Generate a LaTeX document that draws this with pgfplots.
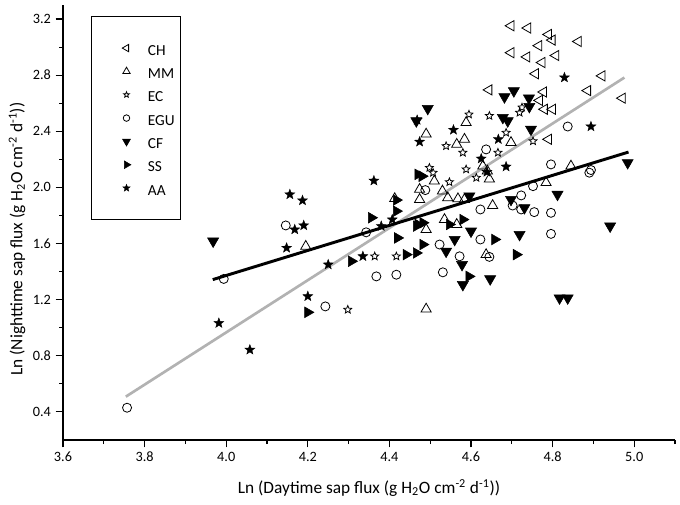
\documentclass[border=0pt]{standalone}
\usepackage{fontspec}
\setmainfont{Carlito}
\usepackage{pgfplots}
\pgfplotsset{compat=1.18}
\usetikzlibrary{plotmarks}
\definecolor{fitgray}{RGB}{178,178,178}
\pgfdeclareplotmark{fstar}{%
  \pgfpathmoveto{\pgfqpointpolar{90}{\pgfplotmarksize}}%
  \pgfpathlineto{\pgfqpointpolar{126}{0.42\pgfplotmarksize}}%
  \pgfpathlineto{\pgfqpointpolar{162}{\pgfplotmarksize}}%
  \pgfpathlineto{\pgfqpointpolar{198}{0.42\pgfplotmarksize}}%
  \pgfpathlineto{\pgfqpointpolar{234}{\pgfplotmarksize}}%
  \pgfpathlineto{\pgfqpointpolar{270}{0.42\pgfplotmarksize}}%
  \pgfpathlineto{\pgfqpointpolar{306}{\pgfplotmarksize}}%
  \pgfpathlineto{\pgfqpointpolar{342}{0.42\pgfplotmarksize}}%
  \pgfpathlineto{\pgfqpointpolar{18}{\pgfplotmarksize}}%
  \pgfpathlineto{\pgfqpointpolar{54}{0.42\pgfplotmarksize}}%
  \pgfpathclose\pgfusepathqfillstroke}
\pgfdeclareplotmark{ostar}{%
  \pgfpathmoveto{\pgfqpointpolar{90}{\pgfplotmarksize}}%
  \pgfpathlineto{\pgfqpointpolar{126}{0.45\pgfplotmarksize}}%
  \pgfpathlineto{\pgfqpointpolar{162}{\pgfplotmarksize}}%
  \pgfpathlineto{\pgfqpointpolar{198}{0.45\pgfplotmarksize}}%
  \pgfpathlineto{\pgfqpointpolar{234}{\pgfplotmarksize}}%
  \pgfpathlineto{\pgfqpointpolar{270}{0.45\pgfplotmarksize}}%
  \pgfpathlineto{\pgfqpointpolar{306}{\pgfplotmarksize}}%
  \pgfpathlineto{\pgfqpointpolar{342}{0.45\pgfplotmarksize}}%
  \pgfpathlineto{\pgfqpointpolar{18}{\pgfplotmarksize}}%
  \pgfpathlineto{\pgfqpointpolar{54}{0.45\pgfplotmarksize}}%
  \pgfpathclose\pgfusepathqstroke}
\begin{document}
\begin{tikzpicture}
\path[use as bounding box] (-47.25pt,-48pt) rectangle (462.75pt,330pt);
\begin{axis}[
  at={(0pt,0pt)}, anchor=south west,
  scale only axis, width=459pt, height=326.25pt,
  xmin=3.6, xmax=5.1, ymin=0.2, ymax=3.3,
  axis x line*=bottom, axis y line*=left,
  axis line style={line width=0.8pt},
  xtick={3.6,3.8,4.0,4.2,4.4,4.6,4.8,5.0},
  ytick={0.4,0.8,1.2,1.6,2.0,2.4,2.8,3.2},
  minor xtick={3.7,3.9,4.1,4.3,4.5,4.7,4.9,5.1},
  minor ytick={0.6,1.0,1.4,1.8,2.2,2.6,3.0},
  tick align=outside,
  major tick length=5.5pt, minor tick length=3pt,
  tick style={line width=0.8pt, black},
  /pgf/number format/fixed,
  /pgf/number format/fixed zerofill,
  /pgf/number format/precision=1,
  /pgf/number format/assume math mode=true,
  xticklabel style={font=\fontsize{10.7}{12}\selectfont},
  yticklabel style={font=\fontsize{10.7}{12}\selectfont},
  xlabel={Ln (Daytime sap flux (g H\textsubscript{2}O cm\textsuperscript{-2} d\textsuperscript{-1}))},
  ylabel={Ln (Nighttime sap flux (g H\textsubscript{2}O cm\textsuperscript{-2} d\textsuperscript{-1}))},
  xlabel style={at={(axis description cs:0.5,-0.110)}, anchor=center, font=\fontsize{13}{15}\selectfont},
  ylabel style={at={(axis description cs:-0.075,0.462)}, anchor=center, font=\fontsize{13}{15}\selectfont},
  legend style={at={(axis description cs:0.0458,0.9747)}, anchor=north west,
    draw=black, line width=0.6pt, inner xsep=2pt, inner ysep=15pt,
    font=\fontsize{11.5}{13}\selectfont, row sep=0pt,
    nodes={text height=12pt, text depth=1.5pt}},
  legend cell align=left,
  legend image code/.code={%
    \path (0pt,0pt) (37.75pt,0pt);
    \draw[mark repeat=2,mark phase=2,#1,/tikz/every mark/.append style={scale=0.72}]
      plot coordinates {(0pt,0pt) (24pt,0pt) (37.75pt,0pt)};},
]
% fitted lines
\addplot[fitgray, line width=2pt, forget plot] coordinates {(3.754,0.509) (4.976,2.783)};
\addplot[black, line width=2.2pt, forget plot] coordinates {(3.967,1.343) (4.986,2.252)};

% CH
\addplot[only marks, mark=triangle, mark size=4.4pt, mark options={rotate=90, line width=0.6pt}, black] coordinates {
(4.698,3.152) (4.739,3.136) (4.790,3.09) (4.799,3.05) (4.863,3.04) (4.766,3.01)
(4.698,2.96) (4.737,2.93) (4.774,2.89) (4.808,2.94) (4.758,2.81) (4.921,2.795)
(4.644,2.695) (4.778,2.68) (4.886,2.69) (4.768,2.62) (4.780,2.557) (4.800,2.557)
(4.790,2.343) (4.971,2.636)
};
\addlegendentry{CH}
% MM
\addplot[only marks, mark=triangle, mark size=4.4pt, mark options={line width=0.6pt}, black] coordinates {
(4.588,2.462) (4.49,2.38) (4.698,2.32) (4.565,2.307) (4.584,2.343) (4.629,2.152) (4.64,2.117)
(4.51,2.045) (4.474,1.986) (4.53,1.974) (4.474,1.914) (4.543,1.926) (4.568,1.919)
(4.584,1.914) (4.653,1.871) (4.784,2.034) (4.845,2.152) (4.535,1.771) (4.565,1.736)
(4.49,1.70) (4.195,1.58) (4.49,1.133) (4.637,1.521) (4.413,1.92) (4.645,2.06)
};
\addlegendentry{MM}
% EC
\addplot[only marks, mark=ostar, mark size=3.1pt, mark options={line width=0.6pt}, black] coordinates {
(4.595,2.52) (4.645,2.51) (4.719,2.533) (4.725,2.57) (4.539,2.295) (4.58,2.248) (4.666,2.248)
(4.686,2.39) (4.752,2.33) (4.588,2.129) (4.507,2.105) (4.613,2.069) (4.547,2.038)
(4.498,2.14) (4.417,1.509) (4.364,1.509) (4.298,1.129)
};
\addlegendentry{EC}
% EGU
\addplot[only marks, mark=o, mark size=3.4pt, mark options={line width=0.6pt}, black] coordinates {
(3.757,0.43) (3.994,1.348) (4.146,1.729) (4.243,1.152) (4.343,1.68) (4.368,1.366)
(4.417,1.378) (4.523,1.593) (4.572,1.509) (4.531,1.395) (4.645,1.505) (4.623,1.843)
(4.702,1.871) (4.723,1.843) (4.755,1.824) (4.796,1.819) (4.796,1.669) (4.623,1.629)
(4.837,2.434) (4.796,2.164) (4.894,2.124) (4.89,2.105) (4.752,2.009) (4.723,1.943)
(4.637,2.271) (4.488,1.981)
};
\addlegendentry{EGU}
% CF
\addplot[only marks, mark=triangle*, mark size=4.8pt, mark options={rotate=180, line width=0.4pt}, black] coordinates {
(3.968,1.617) (4.494,2.562) (4.466,2.474) (4.682,2.645) (4.705,2.688) (4.742,2.636)
(4.743,2.576) (4.678,2.498) (4.69,2.474) (4.747,2.414) (4.984,2.176) (4.812,1.95)
(4.698,1.914) (4.731,1.855) (4.596,1.938) (4.60,1.688) (4.719,1.664) (4.941,1.724)
(4.56,1.629) (4.539,1.545) (4.578,1.45) (4.58,1.307) (4.647,1.348) (4.817,1.212)
(4.837,1.212)
};
\addlegendentry{CF}
% SS
\addplot[only marks, mark=triangle*, mark size=4.6pt, mark options={rotate=-90, line width=0.4pt}, black] coordinates {
(4.20,1.11) (4.356,1.784) (4.417,1.831) (4.307,1.474) (4.42,1.64) (4.441,1.521)
(4.466,1.533) (4.482,1.593) (4.466,1.724) (4.482,1.748) (4.547,1.736) (4.58,1.771)
(4.47,2.093) (4.48,2.08) (4.417,1.91) (4.47,1.736) (4.658,1.629) (4.711,1.521)
(4.595,1.366)
};
\addlegendentry{SS}
% AA
\addplot[only marks, mark=fstar, mark size=3.9pt, mark options={line width=0.3pt, fill=black}, black] coordinates {
(3.982,1.033) (4.058,0.843) (4.20,1.224) (4.25,1.45) (4.156,1.95) (4.187,1.907)
(4.168,1.70) (4.19,1.729) (4.148,1.569) (4.362,2.048) (4.829,2.783) (4.894,2.434)
(4.557,2.41) (4.474,2.325) (4.468,2.48) (4.667,2.343) (4.625,2.205) (4.686,2.148)
(4.639,2.11) (4.38,1.724) (4.335,1.509) (4.407,1.771)
};
\addlegendentry{AA}
\end{axis}
\end{tikzpicture}
\end{document}
